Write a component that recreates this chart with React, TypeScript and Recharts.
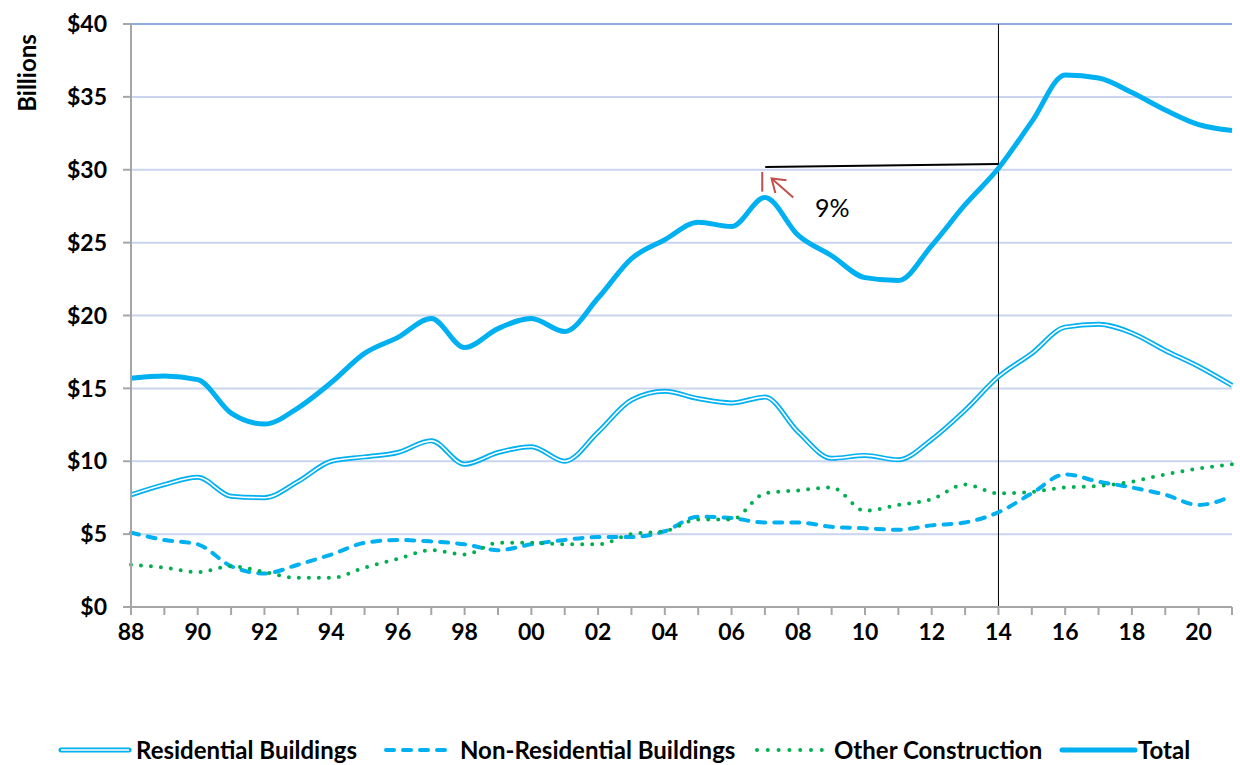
import React from 'react';
import { LineChart, Line, XAxis, YAxis, CartesianGrid, ReferenceLine } from 'recharts';

const years = [
  1988, 1989, 1990, 1991, 1992, 1993, 1994, 1995, 1996, 1997, 1998, 1999, 2000, 2001, 2002, 2003, 2004,
  2005, 2006, 2007, 2008, 2009, 2010, 2011, 2012, 2013, 2014, 2015, 2016, 2017, 2018, 2019, 2020, 2021,
];
const residential = [
  7.7, 8.4, 8.9, 7.6, 7.5, 8.6, 10.0, 10.3, 10.6, 11.4, 9.8, 10.6, 11.0, 10.0, 12.0, 14.2, 14.8,
  14.3, 14.0, 14.4, 12.0, 10.2, 10.4, 10.1, 11.5, 13.5, 15.8, 17.4, 19.2, 19.4, 18.8, 17.6, 16.5, 15.2,
];
const nonResidential = [
  5.1, 4.6, 4.3, 2.8, 2.3, 2.9, 3.6, 4.4, 4.6, 4.5, 4.3, 3.9, 4.3, 4.6, 4.8, 4.8, 5.2,
  6.2, 6.1, 5.8, 5.8, 5.5, 5.4, 5.3, 5.6, 5.8, 6.5, 7.8, 9.1, 8.6, 8.2, 7.7, 7.0, 7.6,
];
const otherConstruction = [
  2.9, 2.7, 2.4, 2.8, 2.4, 2.0, 2.0, 2.7, 3.3, 3.9, 3.6, 4.4, 4.4, 4.3, 4.3, 5.0, 5.2,
  6.0, 6.0, 7.8, 8.0, 8.2, 6.6, 7.0, 7.4, 8.4, 7.8, 7.9, 8.2, 8.3, 8.6, 9.1, 9.5, 9.8,
];
const total = [
  15.7, 15.85, 15.6, 13.3, 12.55, 13.65, 15.4, 17.4, 18.5, 19.8, 17.8, 19.1, 19.8, 18.9, 21.2, 23.9, 25.2,
  26.4, 26.1, 28.1, 25.5, 24.1, 22.6, 22.4, 24.8, 27.6, 30.1, 33.3, 36.5, 36.3, 35.3, 34.1, 33.1, 32.7,
];
const yTicks = [0, 5, 10, 15, 20, 25, 30, 35, 40];

const data = years.map((year, i) => ({
  year,
  residential: residential[i],
  nonResidential: nonResidential[i],
  other: otherConstruction[i],
  total: total[i],
}));

const BLUE = '#00b0f0';
const GREEN = '#00b050';
const FONT = 'Lato, "Open Sans", sans-serif';

const tickStyle = { fontSize: 23, fontWeight: 700, fill: '#000', fontFamily: FONT };

const Arrow = (props: any) => {
  const { x1, y1, x2, y2 } = props;
  const ang = Math.atan2(y2 - y1, x2 - x1);
  const len = 15;
  const a1 = ang + Math.PI - 0.6;
  const a2 = ang + Math.PI + 0.6;
  return (
    <g stroke="#c0504d" strokeWidth={2} fill="none">
      <line x1={x1} y1={y1} x2={x2} y2={y2} />
      <polyline
        points={`${x2 + len * Math.cos(a1)},${y2 + len * Math.sin(a1)} ${x2},${y2} ${x2 + len * Math.cos(a2)},${y2 + len * Math.sin(a2)}`}
      />
    </g>
  );
};

const legendText: React.CSSProperties = {
  position: 'absolute',
  top: 736,
  fontSize: 24,
  fontWeight: 700,
  fontFamily: FONT,
  lineHeight: '28px',
  color: '#000',
  whiteSpace: 'nowrap',
};

const App = () => {
  return (
    <div style={{ position: 'absolute', left: 0, top: 0, width: 1240, height: 765, background: '#fff' }}>
      <LineChart width={1240} height={765} data={data} margin={{ top: 24, right: 8, bottom: 118, left: 0 }}>
        <CartesianGrid horizontal vertical={false} stroke="#c9d5ee" strokeWidth={2} />
        <XAxis
          dataKey="year"
          type="number"
          domain={[1988, 2021]}
          ticks={years}
          interval={0}
          tickFormatter={(v: number) => (v % 2 === 0 ? String(v).slice(2) : '')}
          tick={tickStyle}
          tickSize={8}
          tickMargin={9}
          stroke="#a6a6a6"
          strokeWidth={2}
          height={40}
        />
        <YAxis
          domain={[0, 40]}
          ticks={yTicks}
          interval={0}
          tickFormatter={(v: number) => `$${v}`}
          tick={tickStyle}
          tickSize={8}
          tickMargin={16}
          stroke="#a6a6a6"
          strokeWidth={2}
          width={131}
        />
        <ReferenceLine y={40} stroke="#8faadc" strokeWidth={2} />
        <ReferenceLine x={2014} stroke="#000" strokeWidth={1} />
        <Line
          type="monotone"
          dataKey="residential"
          stroke={BLUE}
          strokeWidth={5}
          dot={false}
          isAnimationActive={false}
        />
        <Line
          type="monotone"
          dataKey="residential"
          stroke="#fff"
          strokeWidth={1.6}
          dot={false}
          isAnimationActive={false}
        />
        <Line
          type="monotone"
          dataKey="nonResidential"
          stroke={BLUE}
          strokeWidth={4}
          strokeDasharray="8 9"
          strokeLinecap="round"
          dot={false}
          isAnimationActive={false}
        />
        <Line
          type="monotone"
          dataKey="other"
          stroke={GREEN}
          strokeWidth={4}
          strokeDasharray="0 10"
          strokeLinecap="round"
          dot={false}
          isAnimationActive={false}
        />
        <Line
          type="monotone"
          dataKey="total"
          stroke={BLUE}
          strokeWidth={5}
          dot={false}
          isAnimationActive={false}
        />
        <ReferenceLine
          segment={[{ x: 2007.01, y: 30.19 }, { x: 2014, y: 30.4 }]}
          stroke="#000"
          strokeWidth={2}
        />
        <ReferenceLine
          segment={[{ x: 2006.92, y: 28.5 }, { x: 2006.92, y: 29.85 }]}
          stroke="#c0504d"
          strokeWidth={2}
        />
        <ReferenceLine
          segment={[{ x: 2007.85, y: 28.1 }, { x: 2007.2, y: 29.4 }]}
          shape={Arrow}
        />
      </LineChart>

      <div style={{ position: 'absolute', left: 815, top: 192, fontSize: 25, fontFamily: FONT, color: '#000' }}>9%</div>
      <div
        style={{
          position: 'absolute',
          left: 26,
          top: 73,
          transform: 'translate(-50%, -50%) rotate(-90deg)',
          fontSize: 24,
          fontWeight: 700,
          fontFamily: FONT,
          whiteSpace: 'nowrap',
        }}
      >
        Billions
      </div>

      <svg style={{ position: 'absolute', left: 0, top: 740 }} width={1240} height={20}>
        <line x1={61} y1={10} x2={129} y2={10} stroke={BLUE} strokeWidth={5} strokeLinecap="round" />
        <line x1={61} y1={10} x2={129} y2={10} stroke="#fff" strokeWidth={1.6} />
        <line x1={386} y1={10} x2={454} y2={10} stroke={BLUE} strokeWidth={4} strokeDasharray="8 9" strokeLinecap="round" />
        <line x1={757} y1={10} x2={822} y2={10} stroke={GREEN} strokeWidth={4} strokeDasharray="0 10.8" strokeLinecap="round" />
        <line x1={1062} y1={10} x2={1135} y2={10} stroke={BLUE} strokeWidth={5} strokeLinecap="round" />
      </svg>
      <div style={{ ...legendText, left: 136 }}>Residential Buildings</div>
      <div style={{ ...legendText, left: 460 }}>Non-Residential Buildings</div>
      <div style={{ ...legendText, left: 834 }}>Other Construction</div>
      <div style={{ ...legendText, left: 1138 }}>Total</div>
    </div>
  );
};

export default App;
